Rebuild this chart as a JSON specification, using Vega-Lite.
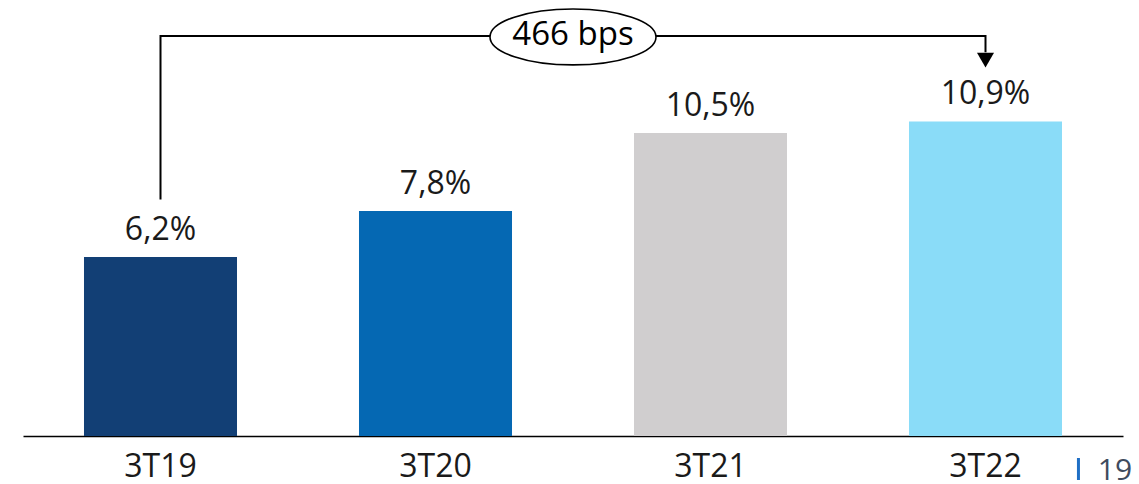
{
  "$schema": "https://vega.github.io/schema/vega-lite/v6.json",
  "width": 1100,
  "height": 436,
  "autosize": {"type": "none"},
  "padding": {"left": 23, "top": 0, "right": 16, "bottom": 48},
  "background": "white",
  "config": {"view": {"stroke": null}, "font": "Open Sans"},
  "layer": [
    {
      "data": {
        "values": [
          {"period": "3T19", "value": 6.2, "label": "6,2%"},
          {"period": "3T20", "value": 7.8, "label": "7,8%"},
          {"period": "3T21", "value": 10.5, "label": "10,5%"},
          {"period": "3T22", "value": 10.9, "label": "10,9%"}
        ]
      },
      "encoding": {
        "x": {
          "field": "period",
          "type": "nominal",
          "sort": null,
          "scale": {"paddingInner": 0.4436, "paddingOuter": 0.2218},
          "axis": {
            "title": null,
            "labelAngle": 0,
            "labelFontSize": 32,
            "labelColor": "#1a1a1a",
            "labelPadding": 15,
            "ticks": false,
            "domainColor": "#000000",
            "domainWidth": 1.6
          }
        },
        "y": {
          "field": "value",
          "type": "quantitative",
          "scale": {"domain": [0, 15.11], "nice": false, "zero": true},
          "axis": null
        }
      },
      "layer": [
        {
          "mark": {"type": "bar"},
          "encoding": {
            "color": {
              "field": "period",
              "type": "nominal",
              "sort": null,
              "scale": {"range": ["#123F75", "#0568B3", "#D0CECF", "#8ADCF8"]},
              "legend": null
            }
          }
        },
        {
          "mark": {"type": "text", "baseline": "alphabetic", "dy": -17, "fontSize": 32, "color": "#1a1a1a"},
          "encoding": {"text": {"field": "label"}}
        }
      ]
    },
    {
      "encoding": {
        "x": {"field": "pos", "type": "quantitative", "scale": {"domain": [0, 4], "nice": false, "zero": false}, "axis": null},
        "y": {"field": "v", "type": "quantitative", "scale": {"domain": [0, 15.11], "nice": false}, "axis": null}
      },
      "layer": [
        {
          "data": {
            "values": [
              {"pos": 0.5, "v": 8.2, "o": 1},
              {"pos": 0.5, "v": 13.86, "o": 2},
              {"pos": 3.5, "v": 13.86, "o": 3},
              {"pos": 3.5, "v": 13.3, "o": 4}
            ]
          },
          "mark": {"type": "line", "color": "#000000", "strokeWidth": 2},
          "encoding": {"order": {"field": "o"}}
        },
        {
          "data": {"values": [{"pos": 3.5, "v": 13.03}]},
          "mark": {"type": "point", "shape": "triangle-down", "size": 290, "filled": true, "color": "#000000", "opacity": 1}
        },
        {
          "data": {"values": [{"pos": 2.0, "v": 13.83, "text": "466 bps"}]},
          "mark": {
            "type": "point",
            "shape": "M -1 0 A 1 0.337 0 1 1 1 0 A 1 0.337 0 1 1 -1 0 Z",
            "size": 27556,
            "filled": false,
            "fill": "#ffffff",
            "fillOpacity": 1,
            "stroke": "#000000",
            "strokeWidth": 1.6,
            "opacity": 1
          }
        },
        {
          "data": {"values": [{"pos": 2.0, "v": 13.83, "text": "466 bps"}]},
          "mark": {"type": "text", "fontSize": 33, "baseline": "middle", "dy": -2, "color": "#000000"},
          "encoding": {"text": {"field": "text"}}
        },
        {
          "data": {"values": [{"pos": 3.838, "v": -0.763, "v2": -1.525}]},
          "mark": {"type": "rule", "color": "#1F6FC5", "strokeWidth": 3},
          "encoding": {"y2": {"field": "v2"}}
        },
        {
          "data": {"values": [{"pos": 3.971, "v": -1.525, "text": "19"}]},
          "mark": {"type": "text", "fontSize": 30, "baseline": "alphabetic", "color": "#3F4B5E"},
          "encoding": {"text": {"field": "text"}}
        }
      ]
    }
  ],
  "resolve": {"scale": {"x": "independent"}}
}
